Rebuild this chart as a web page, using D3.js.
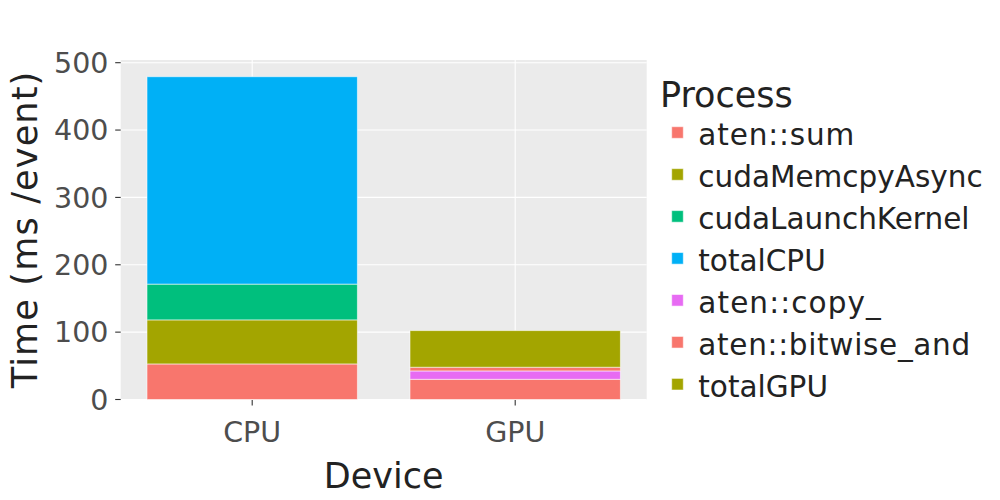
<!DOCTYPE html>
<html><head><meta charset="utf-8">
<script src="https://cdn.jsdelivr.net/npm/d3@7"></script>
<style>body{margin:0;background:#fff}svg{display:block}</style>
</head><body><svg id="c" width="1000" height="500"></svg>
<script>
const devices = ["CPU", "GPU"];
const processes = ["aten::sum","cudaMemcpyAsync","cudaLaunchKernel","totalCPU","aten::copy_","aten::bitwise_and","totalGPU"];
const colors = ["#F8766D","#A3A500","#00BF7D","#00B0F6","#E76BF3","#F8766D","#A3A500"];
const cpuValues = [52.8, 65.4, 53.1, 307.9, 0, 0, 0];
const gpuValues = [30.0, 0, 0, 0, 12.4, 5.5, 54.4];
const yTicks = [0, 100, 200, 300, 400, 500];

const svg = d3.select("#c");
const font = "'DejaVu Sans', Verdana, sans-serif";
const P = {l: 120.7, r: 646.7, t: 60, b: 400};

// emulate Verdana's wider punctuation with DejaVu Sans
const extraEm = {":": 0.117, "_": 0.137, " ": 0.08, "(": 0.1, ")": 0.1, "/": 0.14};
function verdanaize(sel, size) {
  sel.each(function() {
    const t = this.textContent;
    let extra = 0;
    for (const ch of t) extra += (extraEm[ch] || 0);
    if (extra > 0) {
      const w = this.getComputedTextLength();
      d3.select(this).attr("textLength", w + extra * size).attr("lengthAdjust", "spacing");
    }
  });
}

const rows = devices.map((d, i) => {
  const vals = i === 0 ? cpuValues : gpuValues;
  const o = {device: d};
  processes.forEach((p, j) => o[p] = vals[j]);
  return o;
});
const stack = d3.stack().keys(processes)(rows);

const x = d3.scaleBand().domain(devices).range([P.l, P.r]).paddingInner(0.2).paddingOuter(0.1);
const y = d3.scaleLinear().domain([0, 504]).range([399.5, P.t]);

// panel
svg.append("rect").attr("x", P.l).attr("y", P.t).attr("width", P.r - P.l).attr("height", P.b - P.t).attr("fill", "#EBEBEB");
// grid
const g = svg.append("g");
g.selectAll("line.h").data(yTicks).join("line")
  .attr("x1", P.l).attr("x2", P.r).attr("y1", d => y(d)).attr("y2", d => y(d))
  .attr("stroke", "#fff").attr("stroke-width", 1.1);
g.selectAll("line.v").data(devices).join("line")
  .attr("y1", P.t).attr("y2", P.b).attr("x1", d => x(d) + x.bandwidth()/2).attr("x2", d => x(d) + x.bandwidth()/2)
  .attr("stroke", "#fff").attr("stroke-width", 1.1);

// bars
stack.forEach((layer, k) => {
  svg.append("g").selectAll("rect").data(layer.filter(d => d[1] - d[0] > 0)).join("rect")
    .attr("x", d => x(d.data.device))
    .attr("width", x.bandwidth())
    .attr("y", d => y(d[1]))
    .attr("height", d => y(d[0]) - y(d[1]))
    .attr("fill", colors[k])
    .attr("stroke", "rgba(255,255,255,0.55)").attr("stroke-width", 1);
});

// y axis
const ya = svg.append("g");
ya.selectAll("line").data(yTicks).join("line")
  .attr("x1", P.l - 5.5).attr("x2", P.l).attr("y1", d => y(d)).attr("y2", d => y(d))
  .attr("stroke", "#333").attr("stroke-width", 1.1);
ya.selectAll("text").data(yTicks).join("text")
  .attr("x", 108.5).attr("y", d => y(d)).attr("dy", "0.36em")
  .attr("text-anchor", "end").attr("font-family", font).attr("font-size", 28.5)
  .attr("fill", "#4D4D4D").text(d => d);
// x axis
const xa = svg.append("g");
xa.selectAll("line").data(devices).join("line")
  .attr("x1", d => x(d) + x.bandwidth()/2).attr("x2", d => x(d) + x.bandwidth()/2)
  .attr("y1", P.b).attr("y2", P.b + 5.5).attr("stroke", "#333").attr("stroke-width", 1.1);
xa.selectAll("text").data(devices).join("text")
  .attr("x", d => x(d) + x.bandwidth()/2).attr("y", 441.5)
  .attr("text-anchor", "middle").attr("font-family", font).attr("font-size", 28.5)
  .attr("fill", "#4D4D4D").text(d => d);

// titles
svg.append("text").attr("x", (P.l + P.r)/2).attr("y", 487.5).attr("text-anchor", "middle")
  .attr("font-family", font).attr("font-size", 35).attr("fill", "#222").text("Device");
svg.append("text").attr("transform", `translate(36.5,${(P.t + P.b)/2}) rotate(-90)`)
  .attr("text-anchor", "middle").attr("font-family", font).attr("font-size", 35).attr("fill", "#222")
  .text("Time (ms /event)").call(verdanaize, 35);

// legend
const lg = svg.append("g");
lg.append("text").attr("x", 660).attr("y", 106.5).attr("font-family", font).attr("font-size", 35)
  .attr("fill", "#222").text("Process");
const ly = i => 132.5 + i * 41.95;
lg.selectAll("rect").data(processes).join("rect")
  .attr("x", 671.7).attr("y", (d, i) => ly(i) - 5.8).attr("width", 11.6).attr("height", 11.6)
  .attr("fill", (d, i) => colors[i]).attr("stroke", "rgba(255,255,255,0.55)").attr("stroke-width", 1);
lg.selectAll("text.l").data(processes).join("text")
  .attr("x", 698.3).attr("y", (d, i) => ly(i) + 12.5)
  .attr("font-family", font).attr("font-size", 29.5).attr("fill", "#222").text(d => d)
  .call(verdanaize, 29.5);
</script></body></html>
